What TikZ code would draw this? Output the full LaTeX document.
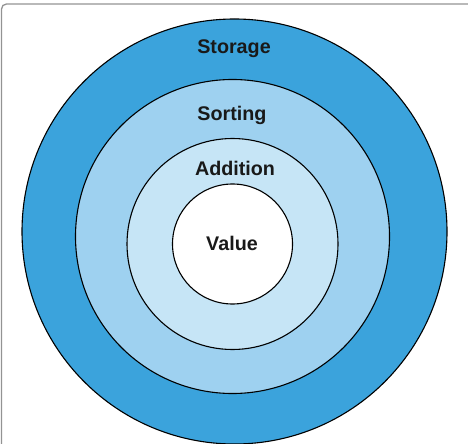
\documentclass[tikz,border=0pt]{standalone}
\usepackage{fontspec}
\setmainfont{Liberation Sans}
\definecolor{storageblue}{HTML}{3BA3DC}
\definecolor{sortingblue}{HTML}{9ED1F0}
\definecolor{additionblue}{HTML}{C6E5F6}
\begin{document}
\begin{tikzpicture}[x=1bp,y=-1bp]
\tikzset{
  ring/.style={circle, draw=black, line width=1.1bp, inner sep=0pt},
  layer/.style={font=\fontsize{19.8}{21}\selectfont\bfseries, text=black!90}
}
\useasboundingbox (0,0) rectangle (468,444);
\draw[gray!85, line width=1.3bp, rounded corners=5bp] (1.5,480) -- (1.5,4) -- (480,4);

\node[ring, fill=storageblue, minimum size=425bp] (storage) at (234.5,231.5) {};
\node[ring, fill=sortingblue, minimum size=314bp] (sorting) at (232.5,236.5) {};
\node[ring, fill=additionblue, minimum size=211bp] (addition) at (232.5,244) {};
\node[ring, fill=white, minimum size=120bp] (value) at (232.5,244) {};

\node[layer] (storagelbl) at (234,49) {Storage};
\node[layer] (sortinglbl) at (232,115) {Sorting};
\node[layer] (additionlbl) at (235,168) {Addition};
\node[layer] (valuelbl) at (232,243) {Value};
\end{tikzpicture}
\end{document}
